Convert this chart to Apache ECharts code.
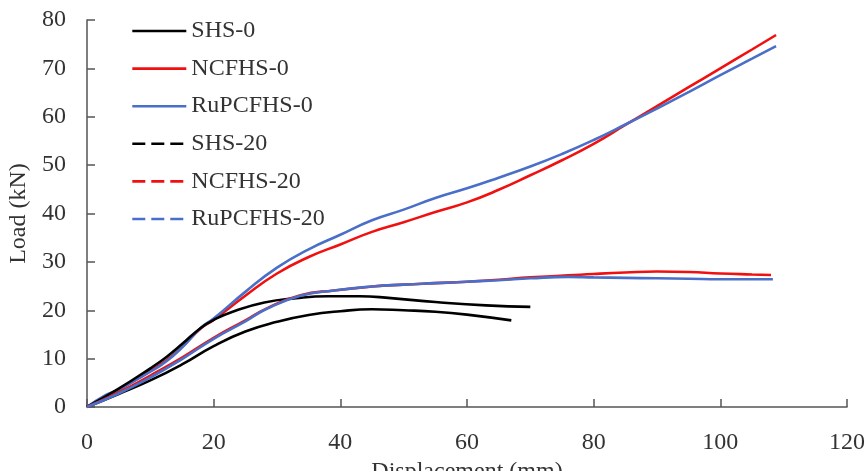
<!DOCTYPE html>
<html>
<head>
<meta charset="utf-8">
<script src="https://cdn.jsdelivr.net/npm/echarts@6/dist/echarts.min.js"></script>
<style>
    html, body {margin: 0; padding: 0; background: #fff;}
    #chart {width: 868px; height: 471px;}
</style>
</head>
<body>
<div id="chart"></div>
<script>
    // load-displacement curves, [displacement mm, load kN]
    var shs0 = [[0, 0], [5, 2.7], [10, 5.5], [15, 8.8], [20, 12.6], [25, 15.6], [30, 17.6], [35, 19.0], [40, 19.8], [45, 20.2], [50, 20.0], [55, 19.7], [60, 19.1], [67, 17.9]];
    var ncfhs0 = [[0, 0], [5, 3.5], [10, 7.5], [12.5, 9.6], [15, 12.4], [18, 16.3], [20, 18.0], [25, 23.0], [30, 27.6], [35, 31.0], [40, 33.6], [45, 36.2], [50, 38.2], [55, 40.3], [60, 42.3], [65, 44.9], [70, 47.9], [75, 51.0], [80, 54.4], [85, 58.3], [90, 62.2], [95, 66.1], [100, 70.0], [105, 73.9], [108.8, 76.9]];
    var rupcfhs0 = [[0, 0], [3, 2.5], [5, 3.6], [10, 7.3], [12.5, 9.4], [15, 12.3], [18, 16.4], [20, 18.3], [25, 23.8], [30, 28.8], [35, 32.6], [40, 35.6], [45, 38.6], [50, 40.8], [55, 43.2], [60, 45.2], [65, 47.4], [70, 49.7], [75, 52.3], [80, 55.2], [85, 58.4], [90, 61.7], [95, 65.1], [100, 68.6], [105, 72.0], [108.8, 74.6]];
    var shs20 = [[0, 0], [5, 3.8], [10, 8.0], [12.5, 10.3], [15, 13.0], [18, 16.4], [20, 18.0], [23, 19.7], [28, 21.6], [33, 22.5], [38, 22.9], [43, 22.9], [48, 22.5], [55, 21.7], [63, 21.0], [70, 20.7]];
    var ncfhs20 = [[0, 0], [5, 3.0], [10, 6.5], [15, 10.2], [20, 14.3], [25, 17.9], [28.4, 20.4], [33.7, 23.1], [39, 24.1], [45, 24.9], [50, 25.3], [55, 25.6], [60, 25.9], [65, 26.3], [70, 26.8], [76, 27.2], [80, 27.5], [85, 27.8], [90, 28.0], [95, 27.9], [100, 27.6], [105, 27.4], [108, 27.3]];
    var rupcfhs20 = [[0, 0], [5, 2.8], [10, 6.1], [15, 9.9], [20, 14.1], [25, 17.7], [28.4, 20.3], [33.7, 23.0], [39, 24.1], [45, 24.9], [50, 25.3], [55, 25.6], [60, 25.9], [65, 26.2], [70, 26.6], [76, 26.9], [80, 26.8], [85, 26.7], [90, 26.6], [95, 26.5], [100, 26.4], [105, 26.4], [108.3, 26.4]];

    var names = ['SHS-0', 'NCFHS-0', 'RuPCFHS-0', 'SHS-20', 'NCFHS-20', 'RuPCFHS-20'];
    var colors = ['#000000', '#f01010', '#4a6fc8', '#000000', '#f01010', '#4a6fc8'];
    var dataList = [shs0, ncfhs0, rupcfhs0, shs20, ncfhs20, rupcfhs20];

    var font = '"Liberation Serif", "Times New Roman", serif';
    var myChart = echarts.init(document.getElementById('chart'));

    var series = [];
    for (var i = 0; i < names.length; i++) {
        series.push({
            name: names[i],
            type: 'line',
            data: dataList[i],
            smooth: true,
            symbol: 'none',
            color: colors[i],
            lineStyle: {color: colors[i], width: 2.6, type: 'solid'}
        });
    }

    // legend shows dashes for the -20 specimens, no marker
    var legendData = names.map(function (n, i) {
        return {
            name: n,
            itemStyle: {opacity: 0},
            lineStyle: {type: i < 3 ? 'solid' : [13, 6], width: 2.6}
        };
    });

    var option = {
        animation: false,
        backgroundColor: '#fff',
        grid: {left: 87, right: 21, top: 20, bottom: 64, outerBoundsMode: 'none'},
        legend: {
            orient: 'vertical',
            left: 131,
            top: 19,
            padding: 0,
            itemWidth: 54,
            itemHeight: 14,
            itemGap: 13.6,
            itemStyle: {opacity: 0},
            data: legendData,
            textStyle: {fontFamily: font, fontSize: 24, color: '#333', lineHeight: 24}
        },
        xAxis: {
            type: 'value',
            min: 0,
            max: 120,
            interval: 20,
            name: 'Displacement (mm)',
            nameLocation: 'middle',
            nameGap: 41,
            nameTextStyle: {fontFamily: font, fontSize: 24, color: '#333'},
            axisLine: {lineStyle: {color: '#555', width: 1.5}},
            axisTick: {inside: true, length: 8, lineStyle: {color: '#555', width: 1.5}},
            axisLabel: {fontFamily: font, fontSize: 24, color: '#333', margin: 24},
            splitLine: {show: false}
        },
        yAxis: {
            type: 'value',
            min: 0,
            max: 80,
            interval: 10,
            name: 'Load (kN)',
            nameLocation: 'middle',
            nameGap: 55,
            nameTextStyle: {fontFamily: font, fontSize: 24, color: '#333'},
            axisLine: {show: true, lineStyle: {color: '#555', width: 1.5}},
            axisTick: {show: true, inside: true, length: 8, lineStyle: {color: '#555', width: 1.5}},
            axisLabel: {fontFamily: font, fontSize: 24, color: '#333', margin: 21},
            splitLine: {show: false}
        },
        series: series
    };
    myChart.setOption(option);
</script>
</body>
</html>
